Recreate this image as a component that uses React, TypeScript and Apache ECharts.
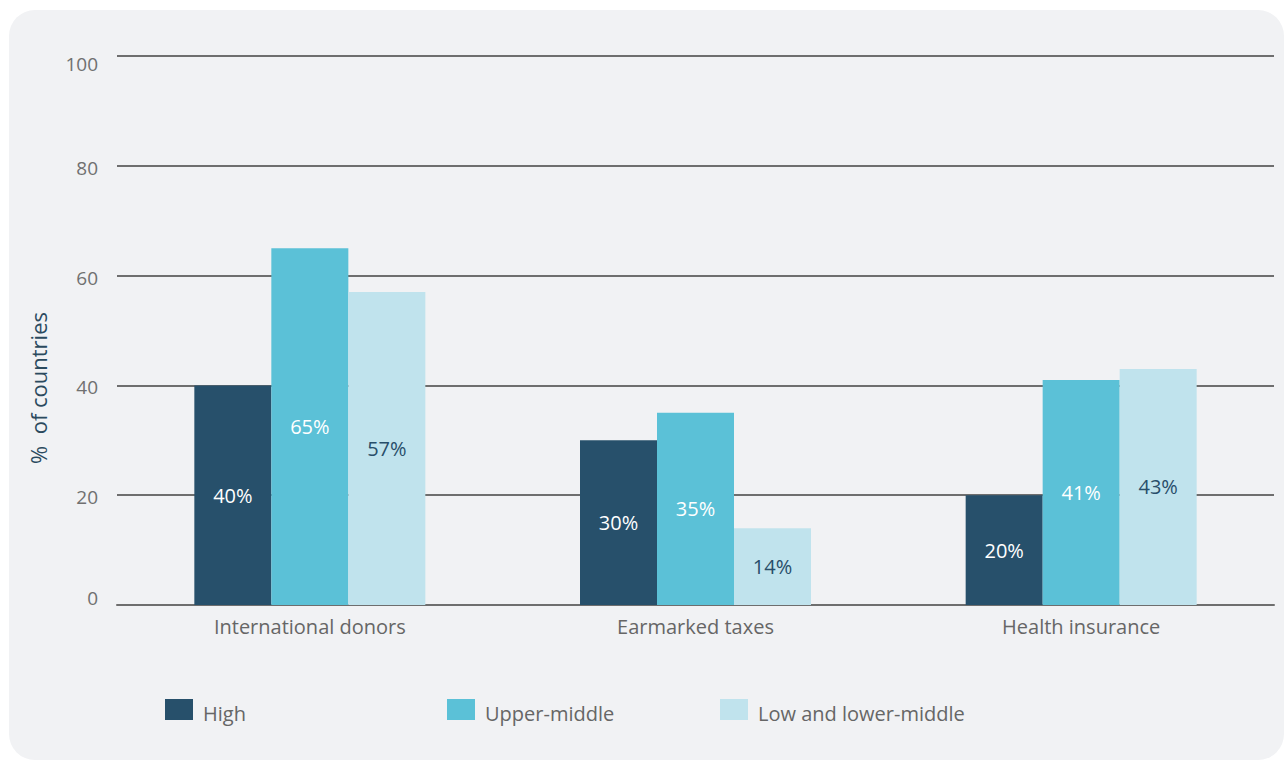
import React, { useEffect, useRef } from "react";
import * as echarts from "echarts";

const categories = ["International donors", "Earmarked taxes", "Health insurance"];
const seriesNames = ["High", "Upper-middle", "Low and lower-middle"];
const highValues = [40, 30, 20];
const upperMiddleValues = [65, 35, 41];
const lowerValues = [57, 14, 43];
const yTicks = { min: 0, max: 100, interval: 20 };
const yAxisTitle = "%  of countries";

const colors = ["#27506b", "#5bc1d7", "#c0e3ed"];
const labelColors = ["#ffffff", "#ffffff", "#284e6a"];
const FONT = "'Open Sans', sans-serif";

export default function App() {
  const ref = useRef<HTMLDivElement>(null);
  useEffect(() => {
    document.body.style.margin = "0";
    const chart = echarts.init(ref.current!, null, { renderer: "svg" });
    const values = [highValues, upperMiddleValues, lowerValues];
    const legendLefts = [165, 447, 720];
    const tickStyle = { fontSize: 19, color: "#707070", fontFamily: FONT };
    const legendText = { fontSize: 20, color: "#666666", fontFamily: FONT };
    chart.setOption({
      animation: false,
      backgroundColor: "#ffffff",
      textStyle: { fontFamily: FONT },
      graphic: [
        {
          type: "rect",
          z: -10,
          silent: true,
          shape: { x: 9, y: 10, width: 1275, height: 750, r: 26 },
          style: { fill: "#f1f2f4" },
        },
        {
          type: "text",
          x: 38,
          y: 388,
          rotation: Math.PI / 2,
          silent: true,
          style: {
            text: yAxisTitle,
            fontSize: 22,
            fontFamily: FONT,
            fill: "#2b4a5e",
            align: "center",
            verticalAlign: "middle",
          },
        },
      ],
      legend: seriesNames.map((n, i) => ({
        data: [n],
        left: legendLefts[i],
        top: 699,
        padding: 0,
        itemWidth: 28,
        itemHeight: 21,
        itemGap: 10,
        icon: "rect",
        formatter: "{t|{name}}",
        textStyle: {
          ...legendText,
          padding: [0, 0, 0, 5],
          rich: { t: { ...legendText, padding: [8, 0, 0, 0] } },
        },
      })),
      grid: { left: 117, right: 11, top: 56, bottom: 158, containLabel: false },
      xAxis: {
        type: "category",
        data: categories,
        axisLine: { show: true, lineStyle: { color: "#6e6e6e", width: 2 } },
        axisTick: { show: false },
        axisLabel: { fontSize: 20, color: "#666666", margin: 11, fontFamily: FONT },
      },
      yAxis: {
        type: "value",
        min: yTicks.min,
        max: yTicks.max,
        interval: yTicks.interval,
        axisLine: { show: false },
        axisTick: { show: false },
        axisLabel: {
          ...tickStyle,
          margin: 19,
          formatter: (v: number) =>
            v === yTicks.max ? `{top|${v}}` : v === yTicks.min ? `{bot|${v}}` : `{mid|${v}}`,
          rich: {
            top: { ...tickStyle, padding: [16, 0, 0, 0] },
            bot: { ...tickStyle, padding: [0, 0, 15, 0] },
            mid: { ...tickStyle, padding: [4, 0, 0, 0] },
          },
        },
        splitLine: { show: true, lineStyle: { color: "#6e6e6e", width: 2 } },
      },
      series: seriesNames.map((n, i) => ({
        name: n,
        type: "bar",
        data: values[i],
        barWidth: 77,
        barGap: "0%",
        itemStyle: { color: colors[i] },
        label: {
          show: true,
          position: "inside",
          formatter: "{c}%",
          fontSize: 20,
          color: labelColors[i],
          fontFamily: FONT,
        },
      })),
    });
    return () => chart.dispose();
  }, []);
  return (
    <div
      ref={ref}
      style={{ position: "fixed", left: 0, top: 0, width: 1285, height: 763 }}
    />
  );
}
